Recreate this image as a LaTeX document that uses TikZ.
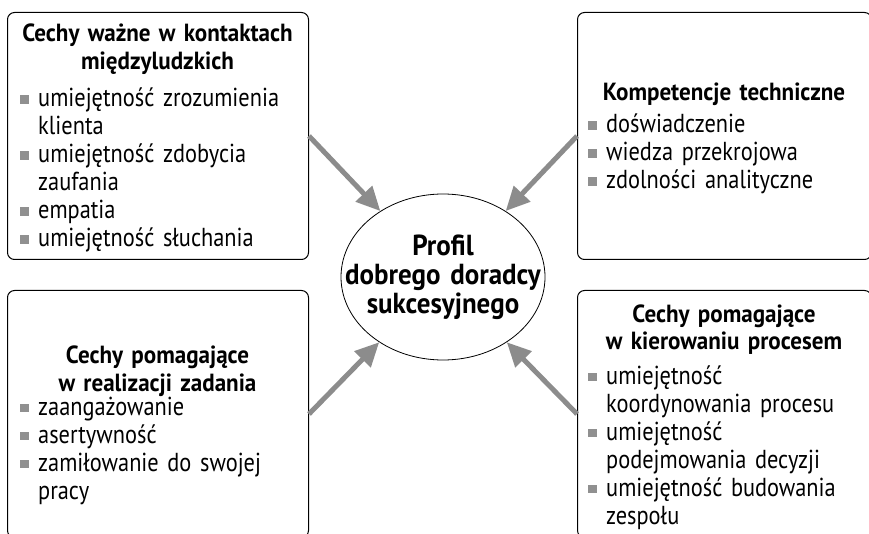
\documentclass[tikz,border=0pt]{standalone}
\usepackage{fontspec}
\setmainfont{PT Sans}[FakeStretch=0.86]
\newfontfamily\boldf{PT Sans}[FakeStretch=0.93]
\usetikzlibrary{arrows.meta,shapes.geometric}
\definecolor{arrgray}{HTML}{8C8C8C}
\definecolor{bulgray}{HTML}{909090}
\newcommand{\blt}{\makebox[18pt][l]{\textcolor{bulgray}{\rule[3pt]{8.5pt}{8.5pt}}}}
\newcommand{\ind}{\hspace*{18pt}}
\begin{document}
\begin{tikzpicture}[x=1pt,y=-1pt,
  box/.style={draw=black, line width=1pt, rounded corners=7pt, anchor=north west, inner sep=0pt},
  ttl/.style={font=\boldf\bfseries\fontsize{24.8}{28}\selectfont, align=center, anchor=base, inner sep=0pt, text width=290pt},
  lst/.style={font=\fontsize{26}{28}\selectfont, align=left, anchor=base west, inner sep=0pt, text width=280pt},
  ctr/.style={font=\boldf\bfseries\fontsize{29}{29}\selectfont, align=center, inner sep=0pt, text width=200pt},
  arr/.style={draw=arrgray, line width=5pt, -{Triangle[length=24pt,width=22pt]}}
]
\useasboundingbox (0,0) rectangle (869,534);

% boxes
\node[box, minimum width=301pt, minimum height=247pt] (tl) at (7,12) {};
\node[box, minimum width=294pt, minimum height=247pt] (tr) at (577,12) {};
\node[box, minimum width=301pt, minimum height=247pt] (bl) at (7,290) {};
\node[box, minimum width=294pt, minimum height=247pt] (br) at (577,290) {};

% centre
\node[draw=black, line width=0.8pt, ellipse, minimum width=204pt, minimum height=166pt, inner sep=0pt] (ell) at (443,277) {};
\node[ctr] (elltext) at (ell.center) {Profil\\dobrego doradcy\\sukcesyjnego};

% texts top-left
\node[ttl] (tlt) at (157.5,42) {Cechy ważne w kontaktach\\międzyludzkich};
\node[lst] (tll) at (20,107) {\blt umiejętność zrozumienia\\\ind klienta\\\blt umiejętność zdobycia\\\ind zaufania\\\blt empatia\\\blt umiejętność słuchania};

% texts top-right
\node[ttl] (trt) at (724,101) {Kompetencje techniczne};
\node[lst] (trl) at (588,133) {\blt doświadczenie\\\blt wiedza przekrojowa\\\blt zdolności analityczne};

% texts bottom-left
\node[ttl] (blt) at (157.5,363) {Cechy pomagające\\w realizacji zadania};
\node[lst] (bll) at (20,415) {\blt zaangażowanie\\\blt asertywność\\\blt zamiłowanie do swojej\\\ind pracy};

% texts bottom-right
\node[ttl] (brt) at (724,322) {Cechy pomagające\\w kierowaniu procesem};
\node[lst] (brl) at (588,384) {\blt umiejętność\\\ind koordynowania procesu\\\blt umiejętność\\\ind podejmowania decyzji\\\blt umiejętność budowania\\\ind zespołu};

% arrows
\draw[arr] (tl.east) -- (ell);
\draw[arr] (tr.west) -- (ell);
\draw[arr] (bl.east) -- (ell);
\draw[arr] (br.west) -- (ell);
\end{tikzpicture}
\end{document}
